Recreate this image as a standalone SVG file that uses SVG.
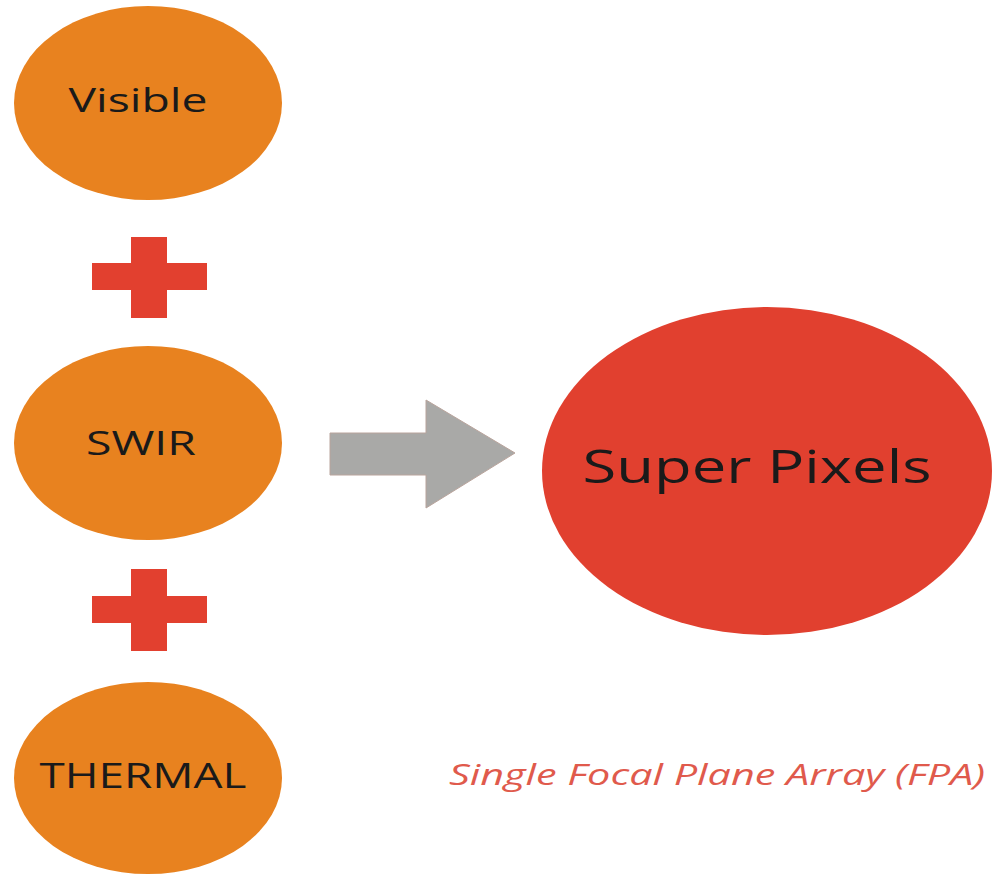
<svg xmlns="http://www.w3.org/2000/svg" width="993" height="876" viewBox="0 0 993 876">
<style>
.src{fill:#E8821F}
.plus{fill:#E2402F}
.lbl{font-family:"Open Sans","Liberation Sans",sans-serif;fill:#1a1a1a;text-anchor:middle}
.cap{font-family:"Open Sans","Liberation Sans",sans-serif;font-style:italic;fill:#E05A4C;font-size:30px}
</style>
<rect width="993" height="876" fill="#ffffff"/>
<g id="visible">
<ellipse class="src" cx="148" cy="103" rx="134" ry="97"/>
<text class="lbl" x="138" y="112" font-size="33" textLength="139" lengthAdjust="spacingAndGlyphs">Visible</text>
</g>
<g id="plus1">
<rect class="plus" x="92" y="263" width="115" height="27"/>
<rect class="plus" x="131" y="237" width="36" height="81"/>
</g>
<g id="swir">
<ellipse class="src" cx="148" cy="443" rx="134" ry="97"/>
<text class="lbl" x="141" y="455" font-size="33" textLength="110" lengthAdjust="spacingAndGlyphs">SWIR</text>
</g>
<g id="plus2">
<rect class="plus" x="92" y="596" width="115" height="27"/>
<rect class="plus" x="131" y="569" width="36" height="82"/>
</g>
<g id="thermal">
<ellipse class="src" cx="148" cy="778" rx="134" ry="96"/>
<text class="lbl" x="143" y="788" font-size="34" textLength="207" lengthAdjust="spacingAndGlyphs">THERMAL</text>
</g>
<g id="connectors">
<polygon points="330,433 426,433 426,400 515,453 426,508 426,475 330,475" fill="#A9A9A7" stroke="#B9A49C" stroke-width="1"/>
</g>
<g id="superpixels">
<ellipse cx="767" cy="471" rx="225" ry="164" fill="#E1402F"/>
<text class="lbl" x="757" y="483" font-size="46" textLength="349" lengthAdjust="spacingAndGlyphs">Super Pixels</text>
</g>
<g id="caption">
<text class="cap" x="449" y="785" textLength="536" lengthAdjust="spacingAndGlyphs">Single Focal Plane Array (FPA)</text>
</g>
</svg>
